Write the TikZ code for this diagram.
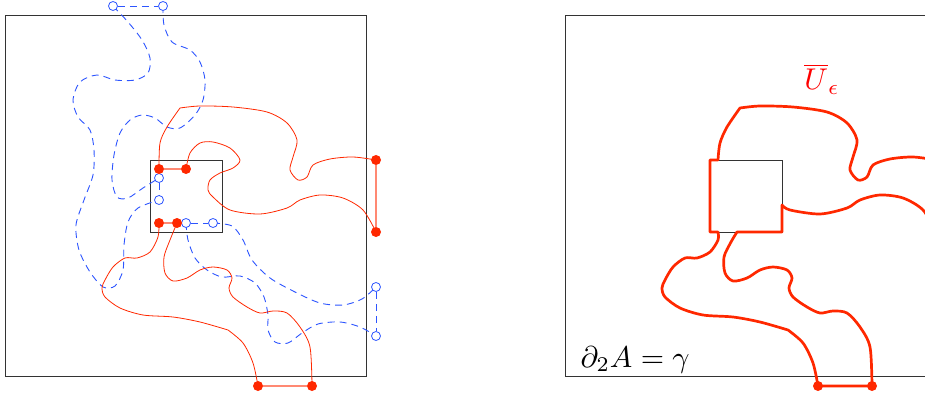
\documentclass[tikz,border=0pt]{standalone}
\definecolor{rd}{RGB}{255,40,0}
\definecolor{bl}{RGB}{45,85,255}
\tikzset{
 frame/.style={draw=black!80,line width=0.9pt},
 redcurve/.style={draw=rd,line width=0.8pt},
 thickred/.style={draw=rd,line width=2.7pt,line join=round},
 bluecurve/.style={draw=bl,line width=0.9pt,dash pattern=on 7pt off 5pt},
 rdot/.style={circle,fill=rd,inner sep=0pt,minimum size=10pt},
 bcirc/.style={circle,draw=bl,fill=white,line width=0.8pt,inner sep=0pt,minimum size=9pt},
 link/.style={draw=rd!55,line width=1.8pt},
 lab/.style={scale=3,inner sep=0pt}
}
\begin{document}
\begin{tikzpicture}[x=1pt,y=-1pt]
\useasboundingbox (0,0) rectangle (925,398);
\clip (0,0) rectangle (925,398);
% frames
\draw[frame] (5,15) rectangle (366,376);
\draw[frame] (150,160) rectangle (222,232);
\draw[frame] (565,15) rectangle (926,376);
\draw[frame] (710,160) rectangle (782,232);
% coordinates, left panel
\coordinate (r1) at (159,169);
\coordinate (r2) at (186,169);
\coordinate (r3) at (159,223);
\coordinate (r4) at (177,223);
\coordinate (r5) at (376,160);
\coordinate (r6) at (376,232);
\coordinate (r7) at (258,386);
\coordinate (r8) at (312,386);
\coordinate (b1) at (113,6);
\coordinate (b2) at (163,6);
\coordinate (b3) at (159,178);
\coordinate (b4) at (159,200);
\coordinate (b5) at (186,223);
\coordinate (b6) at (213,223);
\coordinate (b7) at (376,287);
\coordinate (b8) at (376,336);
% blue dashed curves
\draw[bluecurve] plot[smooth] coordinates {(b1) (128,22) (142,40) (150,58) (148,73) (135,80) (115,80) (97,75) (80,82) (73,100) (78,117) (90,130) (94,150) (93,175) (84,200) (76,225) (79,250) (90,272) (103,287) (115,286) (123,270) (124,245) (128,222) (138,208) (b4)};
\draw[bluecurve] plot[smooth] coordinates {(b2) (164,25) (172,42) (190,50) (200,62) (205,80) (203,100) (195,115) (180,128) (167,127) (155,118) (142,115) (130,120) (120,133) (114,155) (112,180) (117,197) (128,198) (143,188) (b3)};
\draw[bluecurve] plot[smooth] coordinates {(b5) (188,240) (195,258) (207,270) (222,277) (240,276) (255,283) (264,297) (268,315) (268,330) (275,342) (288,343) (302,333) (318,324) (340,322) (360,327) (b8)};
\draw[bluecurve] plot[smooth] coordinates {(b6) (232,226) (243,240) (252,260) (270,278) (295,292) (320,303) (343,305) (362,299) (b7)};
% red thin curves
\draw[redcurve] plot[smooth] coordinates {(r1) (160,143) (167,127) (180,108)} -- plot[smooth] coordinates {(180,108) (200,106) (233,107) (267,112) (287,123) (297,140) (293,157) (290,170) (298,180) (307,177) (313,165) (330,159) (353,157) (r5)};
\draw[redcurve] plot[smooth] coordinates {(r2) (190,153) (200,143) (213,142) (230,148) (240,160) (233,168) (220,173) (210,180) (208,190) (213,197) (230,210) (260,214) (287,208) (300,200) (320,195) (343,198) (363,210) (r6)};
\draw[redcurve] plot[smooth] coordinates {(r3) (158,237) (150,252) (137,258) (125,258) (113,267) (105,280) (102,288) (105,297) (120,308) (143,315) (173,317) (200,322) (228,330)} -- plot[smooth] coordinates {(228,330) (243,343) (253,363) (r7)};
\draw[redcurve] plot[smooth] coordinates {(r4) (170,240) (164,257) (165,273) (173,281) (187,278) (200,270) (213,267) (227,270) (232,278) (229,288) (233,297) (247,307) (260,313) (273,311) (287,313) (300,327) (310,347) (r8)};
% nodes left
\node[bcirc] (B1) at (b1) {};
\node[bcirc] (B2) at (b2) {};
\node[bcirc] (B3) at (b3) {};
\node[bcirc] (B4) at (b4) {};
\node[bcirc] (B5) at (b5) {};
\node[bcirc] (B6) at (b6) {};
\node[bcirc] (B7) at (b7) {};
\node[bcirc] (B8) at (b8) {};
\draw[bluecurve] (B1) -- (B2);
\draw[bluecurve] (B3) -- (B4);
\draw[bluecurve] (B5) -- (B6);
\draw[bluecurve] (B7) -- (B8);
\node[rdot] (R1) at (r1) {};
\node[rdot] (R2) at (r2) {};
\node[rdot] (R3) at (r3) {};
\node[rdot] (R4) at (r4) {};
\node[rdot] (R5) at (r5) {};
\node[rdot] (R6) at (r6) {};
\node[rdot] (R7) at (r7) {};
\node[rdot] (R8) at (r8) {};
\draw[link] (R1) -- (R2);
\draw[link] (R3) -- (R4);
\draw[link] (R5) -- (R6);
\draw[link] (R7) -- (R8);
% right panel boundary
\coordinate (s1) at (718,232);
\coordinate (s2) at (818,386);
\coordinate (s3) at (872,386);
\draw[thickred] plot[smooth] coordinates {(s1) (718,240) (710,252) (697,258) (685,258) (673,267) (665,280) (662,288) (665,297) (680,308) (703,315) (733,317) (760,322) (788,330)} -- plot[smooth] coordinates {(788,330) (803,343) (813,363) (s2)} -- (s3) -- plot[smooth] coordinates {(s3) (870,347) (860,327) (847,313) (833,311) (820,313) (807,307) (793,297) (789,288) (792,278) (787,270) (773,267) (760,270) (747,278) (733,281) (725,273) (724,257) (731,242) (737,232)} -- (782,232) -- (782,205) -- plot[smooth] coordinates {(782,205) (790,210) (820,214) (847,208) (860,200) (880,195) (903,198) (923,210) (936,232)} -- (936,160) -- plot[smooth] coordinates {(936,160) (913,157) (890,159) (873,165) (867,177) (858,180) (850,170) (853,157) (857,140) (847,123) (827,112) (793,107) (760,106) (740,108)} -- plot[smooth] coordinates {(740,108) (727,127) (720,143) (718,160)} -- (710,160) -- (710,232) -- cycle;
\node[rdot] (S2) at (s2) {};
\node[rdot] (S3) at (s3) {};
% labels
\node[lab,text=red] (ulab) at (822,79) {$\overline{U}_\epsilon$};
\node[lab,anchor=base west] (dlab) at (580,367) {$\partial_2A=\gamma$};
\end{tikzpicture}
\end{document}
